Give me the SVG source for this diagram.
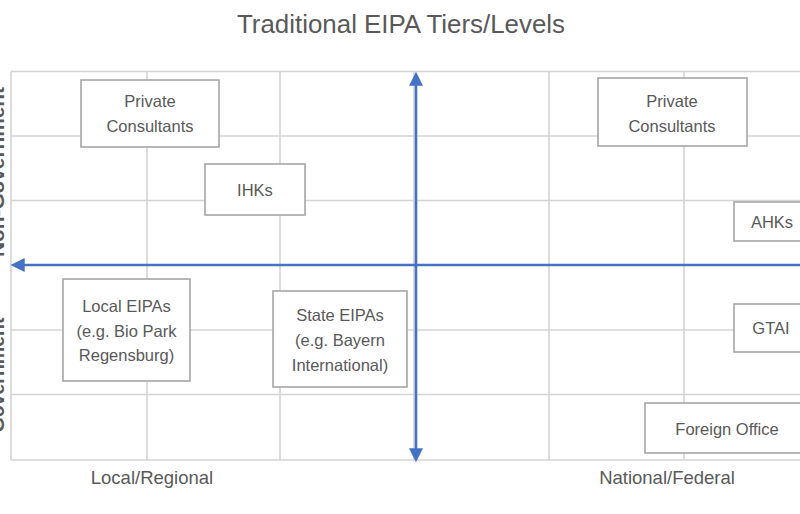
<svg xmlns="http://www.w3.org/2000/svg" width="800" height="514" viewBox="0 0 800 514">
<style>
  .grid line { stroke:#d4d4d4; stroke-width:1.6; }
  .box rect { fill:#ffffff; stroke:#a6a6a6; stroke-width:1.6; }
  .t { font-family:"Liberation Sans", Arial, sans-serif; fill:#595959; text-anchor:middle; }
  .bt { font-size:16.5px; }
  .ax { font-size:18.5px; }
  .side { font-size:20px; font-weight:bold; }
  .arrow { stroke:#4472c4; stroke-width:2.6; fill:none; }
</style>
<defs>
  <marker id="ah" markerUnits="userSpaceOnUse" markerWidth="14" markerHeight="14" viewBox="0 0 13 13" refX="9" refY="6.5" orient="auto-start-reverse">
    <path d="M0,0 L13,6.5 L0,13 z" fill="#4472c4"/>
  </marker>
</defs>
<rect width="800" height="514" fill="#ffffff"/>
<text class="t" x="401" y="33" font-size="25" textLength="328" lengthAdjust="spacingAndGlyphs">Traditional EIPA Tiers/Levels</text>
<g id="side-labels">
  <text class="t side" transform="translate(4,172) rotate(-90)" textLength="170" lengthAdjust="spacingAndGlyphs">Non-Government</text>
  <text class="t side" transform="translate(4,375) rotate(-90)" textLength="115" lengthAdjust="spacingAndGlyphs">Government</text>
</g>
<g id="grid" class="grid">
  <line x1="11" y1="71.5" x2="800" y2="71.5"/>
  <line x1="11" y1="136" x2="800" y2="136"/>
  <line x1="11" y1="200.5" x2="800" y2="200.5"/>
  <line x1="11" y1="265" x2="800" y2="265"/>
  <line x1="11" y1="330" x2="800" y2="330"/>
  <line x1="11" y1="394.5" x2="800" y2="394.5"/>
  <line x1="11" y1="460" x2="800" y2="460"/>
  <line x1="11" y1="71.5" x2="11" y2="460"/>
  <line x1="147" y1="71.5" x2="147" y2="460"/>
  <line x1="280" y1="71.5" x2="280" y2="460"/>
  <line x1="414" y1="71.5" x2="414" y2="460"/>
  <line x1="549" y1="71.5" x2="549" y2="460"/>
  <line x1="684" y1="71.5" x2="684" y2="460"/>
</g>
<g id="connectors">
  <line class="arrow" x1="416" y1="76" x2="416" y2="458" marker-start="url(#ah)" marker-end="url(#ah)"/>
  <line class="arrow" x1="830" y1="265" x2="15" y2="265" marker-end="url(#ah)"/>
</g>
<g id="private-consultants-local" class="box">
  <rect x="81" y="80" width="138" height="67"/>
  <text class="t bt" x="150" y="107">Private</text>
  <text class="t bt" x="150" y="132">Consultants</text>
</g>
<g id="ihks" class="box">
  <rect x="205" y="164" width="100" height="51"/>
  <text class="t bt" x="255" y="196">IHKs</text>
</g>
<g id="local-eipas" class="box">
  <rect x="63" y="279" width="127" height="102"/>
  <text class="t bt" x="126.5" y="312">Local EIPAs</text>
  <text class="t bt" x="126.5" y="336.5">(e.g. Bio Park</text>
  <text class="t bt" x="126.5" y="361">Regensburg)</text>
</g>
<g id="state-eipas" class="box">
  <rect x="273" y="291" width="134" height="96"/>
  <text class="t bt" x="340" y="321">State EIPAs</text>
  <text class="t bt" x="340" y="346">(e.g. Bayern</text>
  <text class="t bt" x="340" y="371">International)</text>
</g>
<g id="private-consultants-national" class="box">
  <rect x="598" y="78" width="149" height="68"/>
  <text class="t bt" x="672" y="107">Private</text>
  <text class="t bt" x="672" y="132">Consultants</text>
</g>
<g id="ahks" class="box">
  <rect x="734" y="202" width="80" height="39"/>
  <text class="t bt" x="772" y="228">AHKs</text>
</g>
<g id="gtai" class="box">
  <rect x="734" y="304" width="80" height="48"/>
  <text class="t bt" x="771" y="334">GTAI</text>
</g>
<g id="foreign-office" class="box">
  <rect x="645" y="403" width="170" height="50"/>
  <text class="t bt" x="727" y="435">Foreign Office</text>
</g>
<g id="axis-labels">
  <text class="t ax" x="152" y="484">Local/Regional</text>
  <text class="t ax" x="667" y="484">National/Federal</text>
</g>
</svg>
